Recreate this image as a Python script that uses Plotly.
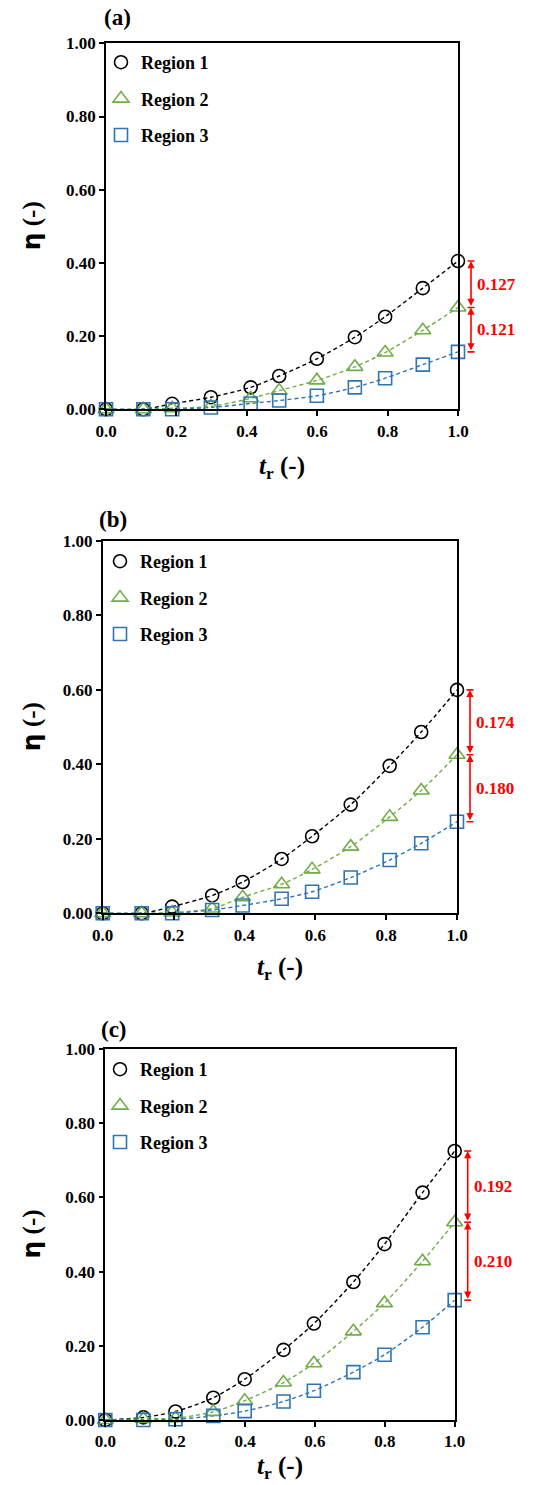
import plotly.graph_objects as go

# ---------------- data ----------------
panel_labels = ["(a)", "(b)", "(c)"]
series_names = ["Region 1", "Region 2", "Region 3"]

x_a = [0.0, 0.106, 0.188, 0.298, 0.411, 0.492, 0.599, 0.707, 0.793, 0.900, 1.0]
r1_a = [0.0, 0.0, 0.015, 0.033, 0.060, 0.091, 0.138, 0.197, 0.253, 0.331, 0.405]
r2_a = [0.0, 0.0, 0.003, 0.008, 0.030, 0.051, 0.079, 0.116, 0.155, 0.216, 0.278]
r3_a = [0.0, 0.0, 0.0, 0.005, 0.016, 0.024, 0.037, 0.060, 0.085, 0.122, 0.157]
gaps_a = ["0.127", "0.121"]

x_b = [0.0, 0.110, 0.196, 0.309, 0.395, 0.505, 0.591, 0.700, 0.810, 0.899, 1.0]
r1_b = [0.0, 0.0, 0.018, 0.048, 0.084, 0.146, 0.207, 0.292, 0.396, 0.487, 0.600]
r2_b = [0.0, 0.0, 0.002, 0.013, 0.043, 0.078, 0.118, 0.179, 0.259, 0.330, 0.426]
r3_b = [0.0, 0.0, 0.0, 0.009, 0.021, 0.039, 0.058, 0.096, 0.143, 0.188, 0.246]
gaps_b = ["0.174", "0.180"]

x_c = [0.0, 0.109, 0.201, 0.309, 0.399, 0.510, 0.597, 0.710, 0.799, 0.908, 1.0]
r1_c = [0.0, 0.007, 0.023, 0.060, 0.110, 0.189, 0.260, 0.372, 0.474, 0.613, 0.725]
r2_c = [0.0, 0.003, 0.005, 0.022, 0.052, 0.101, 0.153, 0.239, 0.315, 0.428, 0.533]
r3_c = [0.0, 0.0, 0.002, 0.011, 0.024, 0.050, 0.079, 0.129, 0.176, 0.250, 0.323]
gaps_c = ["0.192", "0.210"]

panels = [
    (x_a, [r1_a, r2_a, r3_a], gaps_a),
    (x_b, [r1_b, r2_b, r3_b], gaps_b),
    (x_c, [r1_c, r2_c, r3_c], gaps_c),
]

# ---------------- styling ----------------
W, H = 559, 1485
FONT = "Liberation Serif"
colors = ["#000000", "#70AD47", "#2E75B6"]
symbols = ["circle-open", "triangle-up-open", "square-open"]
msizes = [13, 14, 13]
RED = "#FF0000"

# pixel boxes of the three plot areas: (left, right, top, bottom)
boxes = [(106, 458, 43.3, 409.3), (102.7, 457, 541, 913.3), (105.3, 454.7, 1049, 1420)]
legend_pos = [(101, 44), (100, 543), (100, 1051)]
label_pos = [(117, 18), (113, 519), (114, 1029)]
xtitle_y = [467, 968, 1467]

fig = go.Figure()
axis_common = dict(
    range=[0, 1], dtick=0.2, showline=True, linecolor="black", linewidth=1.6,
    mirror=True, ticks="outside", ticklen=5, tickwidth=1.5, tickcolor="black",
    showgrid=False, zeroline=False, automargin=False,
    tickfont=dict(family=FONT, size=17, color="black", weight="bold"),
)

annotations = []
shapes = []
for i, (xs, ys_list, gaps) in enumerate(panels):
    n = "" if i == 0 else str(i + 1)
    xref, yref = "x" + n, "y" + n
    leg = "legend" + n
    l, r, t, b = boxes[i]
    fig.update_layout({
        "xaxis" + n: dict(axis_common, domain=[l / W, r / W], anchor=yref, tickformat=".1f"),
        "yaxis" + n: dict(axis_common, domain=[1 - b / H, 1 - t / H], anchor=xref, tickformat=".2f"),
        leg: dict(
            x=legend_pos[i][0] / W, y=1 - legend_pos[i][1] / H, xanchor="left", yanchor="top",
            bgcolor="rgba(0,0,0,0)", tracegroupgap=10, traceorder="grouped",
            font=dict(family=FONT, size=18, color="black", weight="bold"),
        ),
    })
    for k, ys in enumerate(ys_list):
        fig.add_trace(go.Scatter(
            x=xs, y=ys, mode="lines", xaxis=xref, yaxis=yref, showlegend=False,
            line=dict(color=colors[k], width=1.4, dash="4px,3px", shape="spline", smoothing=0.8),
            hoverinfo="skip",
        ))
    for k, ys in enumerate(ys_list):
        fig.add_trace(go.Scatter(
            x=xs, y=ys, mode="markers", xaxis=xref, yaxis=yref, name=series_names[k],
            legend=leg, legendgroup=f"p{i}s{k}", cliponaxis=False,
            marker=dict(symbol=symbols[k], size=msizes[k], color=colors[k], line=dict(width=1.6)),
        ))
    # difference brackets at t_r = 1
    ends = [ys[-1] for ys in ys_list]
    bx = (r + 13 - l) / (r - l)
    tx = (r + 17 - l) / (r - l)
    capw = 3.5 / (r - l)
    for j in range(2):
        annotations.append(dict(
            x=bx, y=ends[j], ax=bx, ay=ends[j + 1], xref=xref + " domain", yref=yref,
            axref=xref + " domain", ayref=yref, showarrow=True, arrowside="end+start",
            arrowhead=2, arrowsize=0.9, arrowwidth=1.6, arrowcolor=RED, text="",
            standoff=0, startstandoff=0,
        ))
        annotations.append(dict(
            x=tx, y=(ends[j] + ends[j + 1]) / 2, xref=xref + " domain", yref=yref,
            text=gaps[j], showarrow=False, xanchor="left", yanchor="middle",
            font=dict(family=FONT, size=17, color=RED, weight="bold"),
        ))
    for e in ends:
        shapes.append(dict(
            type="line", xref=xref + " domain", yref=yref, x0=bx - capw, x1=bx + capw,
            y0=e, y1=e, line=dict(color=RED, width=1.6),
        ))
    # panel label
    annotations.append(dict(
        x=label_pos[i][0] / W, y=1 - label_pos[i][1] / H, xref="paper", yref="paper",
        text=panel_labels[i], showarrow=False, xanchor="center", yanchor="middle",
        font=dict(family=FONT, size=23, color="black", weight="bold"),
    ))
    # axis titles
    annotations.append(dict(
        x=(l + r) / 2 / W, y=1 - xtitle_y[i] / H, xref="paper", yref="paper",
        text="<i>t</i><sub>r</sub> (-)", showarrow=False, xanchor="center", yanchor="middle",
        font=dict(family=FONT, size=25, color="black", weight="bold"),
    ))
    annotations.append(dict(
        x=31 / W, y=1 - (t + b) / 2 / H, xref="paper", yref="paper",
        text="<span style='font-family:DejaVu Sans'>η</span> (-)", showarrow=False,
        textangle=-90, xanchor="center", yanchor="middle",
        font=dict(family=FONT, size=25, color="black", weight="bold"),
    ))

fig.update_layout(
    width=W, height=H, margin=dict(l=0, r=0, t=0, b=0, autoexpand=False),
    paper_bgcolor="white", plot_bgcolor="white",
    annotations=annotations, shapes=shapes, showlegend=True,
)

fig.write_html(
    "out.html",
    config={"displayModeBar": False},
    post_script="document.body.style.margin='0';document.body.style.overflow='hidden';",
)
